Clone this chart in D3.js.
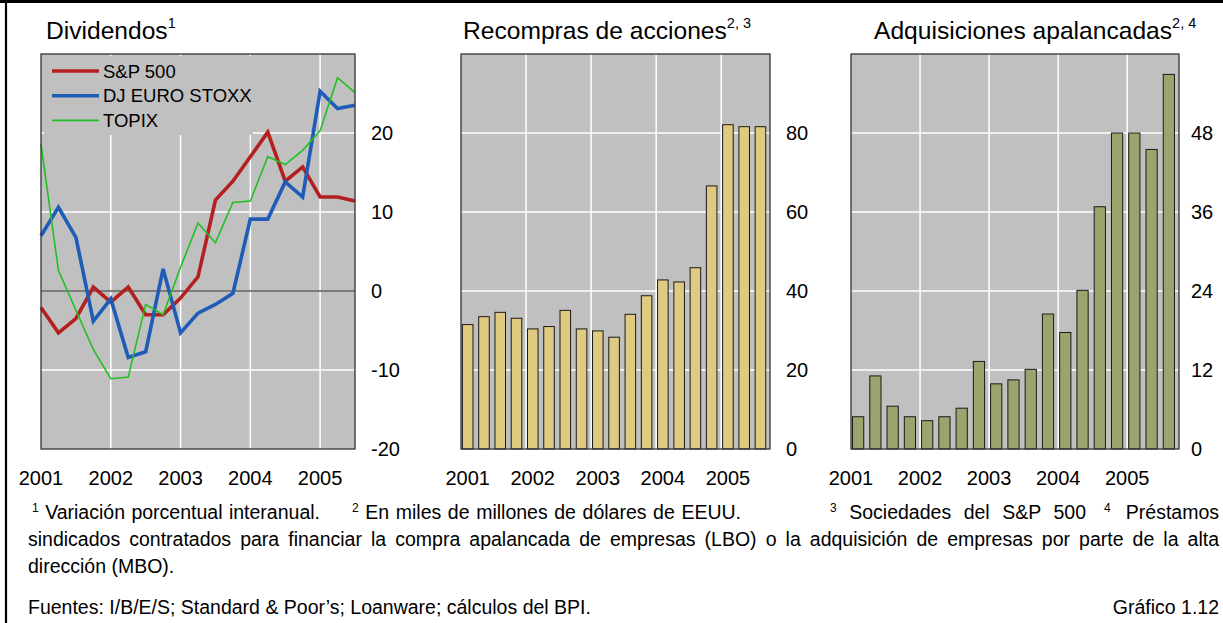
<!DOCTYPE html>
<html>
<head>
<meta charset="utf-8">
<script src="https://cdn.jsdelivr.net/npm/d3@7"></script>
<style>
  body { margin: 0; background: #fff; }
  svg { display: block; font-family: "Liberation Sans", Arial, sans-serif; }
</style>
</head>
<body>
<svg id="chart" width="1223" height="623"></svg>
<script>
// quarterly categories, 2001 T1 .. 2005 T3
const quarters = ["2001T1","2001T2","2001T3","2001T4","2002T1","2002T2","2002T3","2002T4",
  "2003T1","2003T2","2003T3","2003T4","2004T1","2004T2","2004T3","2004T4","2005T1","2005T2","2005T3"];
const years = [2001, 2002, 2003, 2004, 2005];

// Dividendos, % interanual
const sp500 = [-2.1, -5.3, -3.5, 0.5, -1.4, 0.5, -3.0, -3.0, -0.9, 1.8, 11.5, 13.9, 17.0, 20.1, 13.9, 15.7, 11.9, 11.9, 11.4];
const djEuroStoxx = [7.0, 10.6, 6.8, -3.8, -1.0, -8.4, -7.7, 2.8, -5.3, -2.8, -1.7, -0.3, 9.1, 9.1, 13.8, 11.9, 25.3, 23.1, 23.5];
const topix = [18.6, 2.6, -2.4, -7.4, -11.1, -10.9, -1.7, -3.0, 3.0, 8.6, 6.1, 11.2, 11.4, 17.0, 16.0, 17.8, 20.3, 27.0, 25.1];

// Recompras de acciones, mm de USD
const recompras = [31.5, 33.5, 34.6, 33.1, 30.4, 31.0, 35.1, 30.4, 29.9, 28.3, 34.1, 38.8, 42.8, 42.3, 45.9, 66.6, 82.1, 81.6, 81.6];
// Adquisiciones apalancadas, mm de USD
const adquisiciones = [4.9, 11.1, 6.5, 4.9, 4.3, 4.9, 6.2, 13.3, 9.9, 10.5, 12.1, 20.5, 17.7, 24.1, 36.8, 48.0, 48.0, 45.5, 56.9];

const divTicks = [-20, -10, 0, 10, 20];
const recTicks = [0, 20, 40, 60, 80];
const adqTicks = [0, 12, 24, 36, 48];

const seriesNames = ["S&P 500", "DJ EURO STOXX", "TOPIX"];

// footnotes
const notes = [
  { num: "1", text: "Variación porcentual interanual." },
  { num: "2", text: "En miles de millones de dólares de EEUU." },
  { num: "3", text: "Sociedades del S&P 500" },
  { num: "4", text: "Préstamos" }
];
const noteCont = ["sindicados contratados para financiar la compra apalancada de empresas (LBO) o la adquisición de empresas por parte de la alta",
  "dirección (MBO)."];
const sourceText = "Fuentes: I/B/E/S; Standard & Poor’s; Loanware; cálculos del BPI.";
const chartId = "Gráfico 1.12";

const qTime = q => +q.slice(0, 4) + (+q.slice(5) - 1) / 4;

const svg = d3.select("#chart");
const plotTop = 54, plotBottom = 449;
const plotBg = "#c0c0c0";

// frame
svg.append("line").attr("x1", 0).attr("x2", 1223).attr("y1", 1.5).attr("y2", 1.5)
  .attr("stroke", "#000").attr("stroke-width", 3);
svg.append("line").attr("x1", 6).attr("x2", 6).attr("y1", 0).attr("y2", 623)
  .attr("stroke", "#000").attr("stroke-width", 2.2);

function title(x, text, sup) {
  const t = svg.append("text").attr("x", x).attr("y", 39)
    .attr("font-size", 24.6).attr("fill", "#000").text(text);
  t.append("tspan").attr("dy", -11).attr("font-size", 14.5).text(sup);
}

function panel(x0, x1, y, ticks, labelX) {
  const g = svg.append("g");
  g.append("rect").attr("x", x0).attr("y", plotTop).attr("width", x1 - x0).attr("height", plotBottom - plotTop)
    .attr("fill", plotBg);
  g.append("g").selectAll("line").data(ticks.filter(d => d !== y.domain()[0]))
    .join("line")
    .attr("x1", x0).attr("x2", x1)
    .attr("y1", d => y(d)).attr("y2", d => y(d))
    .attr("stroke", "#fff").attr("stroke-width", 1.5);
  g.append("g").selectAll("text").data(ticks).join("text")
    .attr("x", labelX).attr("y", d => y(d)).attr("dy", "0.36em")
    .attr("font-size", 20).text(d => d);
  return g;
}

// ---------- Panel 1: Dividendos ----------
{
  const x0 = 41, x1 = 355;
  const x = d3.scaleLinear().domain([2001, 2005.5]).range([x0, x1]);
  const y = d3.scaleLinear().domain([-20, 30]).range([plotBottom, plotTop]);
  const g = panel(x0, x1, y, divTicks, 371);
  g.append("g").selectAll("line").data(years.slice(1)).join("line")
    .attr("x1", d => x(d)).attr("x2", d => x(d)).attr("y1", plotTop).attr("y2", plotBottom)
    .attr("stroke", "#fff").attr("stroke-width", 1.5);
  // legend box hides the grid behind it
  g.append("rect").attr("x", 44).attr("y", 56).attr("width", 209).attr("height", 79).attr("fill", plotBg);
  g.append("line").attr("x1", x0).attr("x2", x1).attr("y1", y(0)).attr("y2", y(0))
    .attr("stroke", "#555").attr("stroke-width", 1.5);

  const series = [
    { name: seriesNames[0], values: sp500, color: "#b41f1f", w: 3.6 },
    { name: seriesNames[1], values: djEuroStoxx, color: "#1f5cb8", w: 3.6 },
    { name: seriesNames[2], values: topix, color: "#21c021", w: 1.6 }
  ];
  const line = d3.line().x((d, i) => x(qTime(quarters[i]))).y(d => y(d));
  g.append("g").selectAll("path").data(series).join("path")
    .attr("d", d => line(d.values)).attr("fill", "none")
    .attr("stroke", d => d.color).attr("stroke-width", d => d.w)
    .attr("stroke-linejoin", "miter");

  const leg = g.append("g").selectAll("g").data(series).join("g")
    .attr("transform", (d, i) => `translate(0,${71 + i * 24.7})`);
  leg.append("line").attr("x1", 52).attr("x2", 99).attr("stroke", d => d.color).attr("stroke-width", d => d.w);
  leg.append("text").attr("x", 103).attr("dy", "0.36em").attr("font-size", 18.5).text(d => d.name);

  g.append("rect").attr("x", x0).attr("y", plotTop).attr("width", x1 - x0).attr("height", plotBottom - plotTop)
    .attr("fill", "none").attr("stroke", "#333").attr("stroke-width", 1.3);

  g.append("g").selectAll("text").data(years).join("text")
    .attr("x", d => x(d)).attr("y", 485).attr("text-anchor", "middle").attr("font-size", 20).text(d => d);
  title(46, "Dividendos", "1");
}

// ---------- bar panels ----------
function barPanel(x0, x1, domainMax, values, ticks, labelX, fill, labelOnBar, name, sup, titleX) {
  const xt = d3.scaleLinear().domain([2001, 2005.75]).range([x0, x1]);
  const xb = d3.scaleBand().domain(quarters).range([x0, x1])
    .paddingInner(0.35).paddingOuter(0.175).align(0.25);
  const y = d3.scaleLinear().domain([0, domainMax]).range([plotBottom, plotTop]);
  const g = panel(x0, x1, y, ticks, labelX);
  g.append("g").selectAll("line").data(years.slice(1)).join("line")
    .attr("x1", d => xt(d)).attr("x2", d => xt(d)).attr("y1", plotTop).attr("y2", plotBottom)
    .attr("stroke", "#fff").attr("stroke-width", 1.5);
  g.append("g").selectAll("rect").data(values).join("rect")
    .attr("x", (d, i) => xb(quarters[i])).attr("width", xb.bandwidth())
    .attr("y", d => y(d)).attr("height", d => y(0) - y(d))
    .attr("fill", fill).attr("stroke", "#1a1a1a").attr("stroke-width", 1);
  g.append("rect").attr("x", x0).attr("y", plotTop).attr("width", x1 - x0).attr("height", plotBottom - plotTop)
    .attr("fill", "none").attr("stroke", "#333").attr("stroke-width", 1.3);
  g.append("g").selectAll("text").data(years).join("text")
    .attr("x", d => labelOnBar ? xb(d + "T1") + xb.bandwidth() / 2 : xt(d))
    .attr("y", 485).attr("text-anchor", "middle").attr("font-size", 20).text(d => d);
  title(titleX, name, sup);
}

barPanel(461, 770, 100, recompras, recTicks, 786, "#e0c980", true, "Recompras de acciones", "2, 3", 463);
barPanel(851, 1179, 60, adquisiciones, adqTicks, 1191, "#9ba46c", false, "Adquisiciones apalancadas", "2, 4", 874);

// ---------- footer ----------
const fs = 19.5;
// stretch word gaps so the text runs from xStart to xEnd
function justify(t, xStart, xEnd) {
  const nat = t.node().getComputedTextLength();
  const spaces = (t.text().match(/ /g) || []).length;
  if (spaces) t.attr("word-spacing", Math.max(0, (xEnd - xStart - nat) / spaces));
}
const noteSpans = [[32, 320], [352, 741], [830, 1086], [1104, 1219]];
notes.forEach((n, i) => {
  const [xs, xe] = noteSpans[i];
  const t = svg.append("text").attr("x", xs).attr("y", 519).attr("font-size", fs);
  t.append("tspan").attr("dy", -7).attr("font-size", 12).text(n.num);
  t.append("tspan").attr("dy", 7).text(" " + n.text);
  justify(t, xs, xe);
});
const l2 = svg.append("text").attr("x", 28).attr("y", 546).attr("font-size", fs).text(noteCont[0]);
justify(l2, 28, 1219);
svg.append("text").attr("x", 28).attr("y", 573).attr("font-size", fs).text(noteCont[1]);
svg.append("text").attr("x", 28).attr("y", 614).attr("font-size", fs).text(sourceText);
svg.append("text").attr("x", 1219).attr("y", 614).attr("font-size", fs).attr("text-anchor", "end")
  .text(chartId);
</script>
</body>
</html>
